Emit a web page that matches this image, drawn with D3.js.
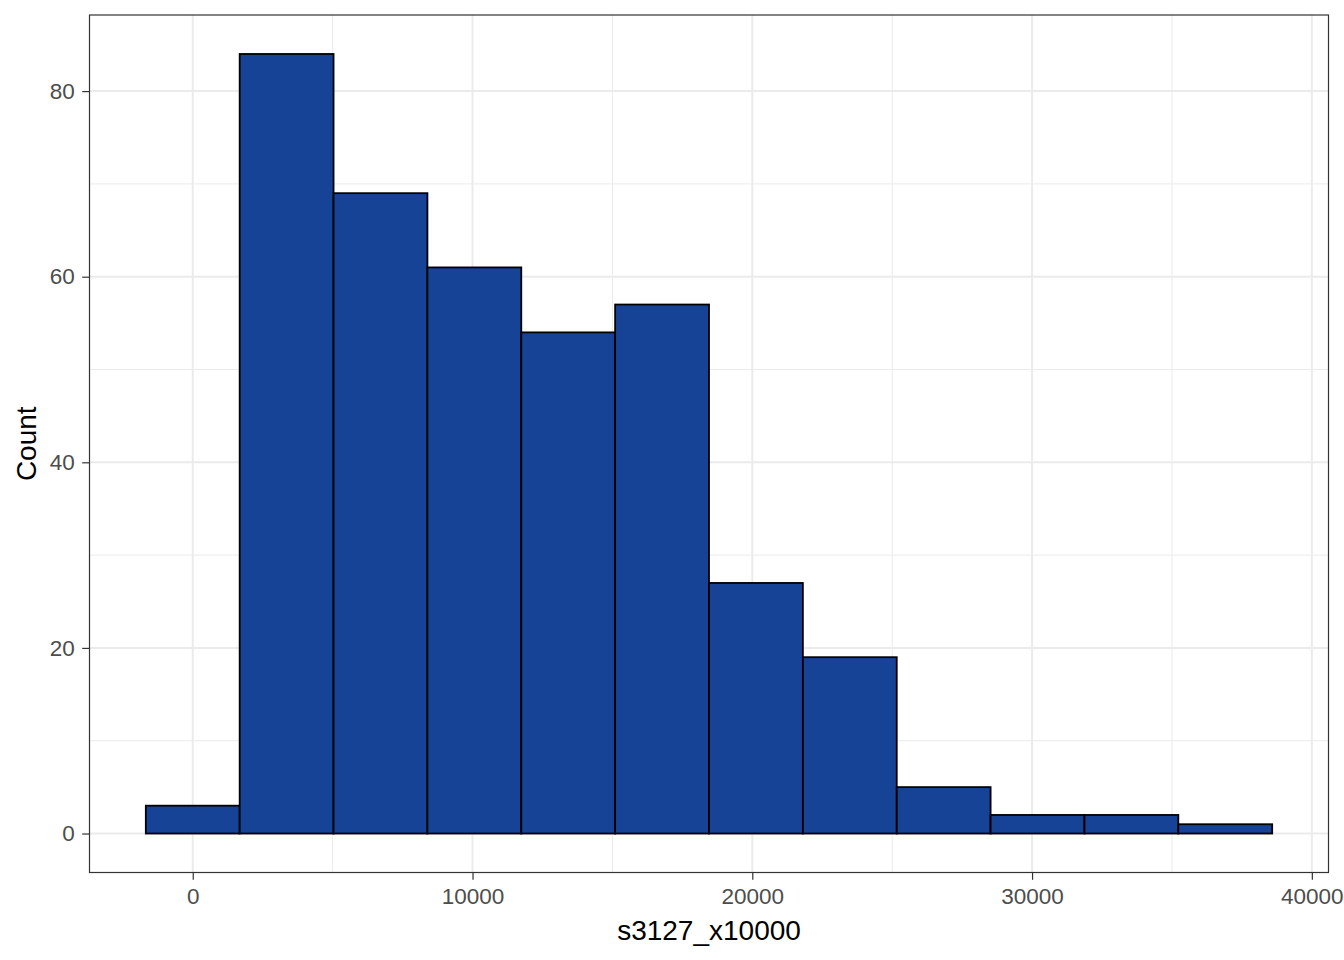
<!DOCTYPE html>
<html><head><meta charset="utf-8">
<script src="https://cdn.jsdelivr.net/npm/d3@7"></script>
<style>body{margin:0;background:#fff}svg{display:block}</style>
</head><body>
<script>
// Histogram bins (centers) and counts
const binCenters = [0, 3355, 6710, 10065, 13420, 16775, 20130, 23485, 26840, 30195, 33550, 36905];
const binWidth = 3355;
const counts = [3, 84, 69, 61, 54, 57, 27, 19, 5, 2, 2, 1];
const xTicks = [0, 10000, 20000, 30000, 40000];
const xMinor = [-5000, 5000, 15000, 25000, 35000];
const yTicks = [0, 20, 40, 60, 80];
const yMinor = [10, 30, 50, 70];
const xTitle = "s3127_x10000";
const yTitle = "Count";

const W = 1344, H = 960;
const panel = {left: 89.5, right: 1328.5, top: 15, bottom: 872.5};

const svg = d3.select("body").append("svg").attr("width", W).attr("height", H);

const xmin = binCenters[0] - binWidth/2, xmax = binCenters[binCenters.length-1] + binWidth/2;
const xpad = (xmax - xmin) * 0.05;
const x = d3.scaleLinear().domain([xmin - xpad, xmax + xpad]).range([panel.left, panel.right]);
const ymax = d3.max(counts);
const y = d3.scaleLinear().domain([-ymax*0.05, ymax*1.05]).range([panel.bottom, panel.top]);

const g = svg.append("g");
g.append("rect").attr("x", panel.left).attr("y", panel.top)
  .attr("width", panel.right - panel.left).attr("height", panel.bottom - panel.top).attr("fill", "#fff");

// minor grid
g.selectAll(".vminor").data(xMinor.filter(v => x(v) > panel.left && x(v) < panel.right)).enter().append("line")
  .attr("x1", d => x(d)).attr("x2", d => x(d)).attr("y1", panel.top).attr("y2", panel.bottom)
  .attr("stroke", "#EBEBEB").attr("stroke-width", 1);
g.selectAll(".hminor").data(yMinor).enter().append("line")
  .attr("y1", d => y(d)).attr("y2", d => y(d)).attr("x1", panel.left).attr("x2", panel.right)
  .attr("stroke", "#EBEBEB").attr("stroke-width", 1);
// major grid
g.selectAll(".vmajor").data(xTicks).enter().append("line")
  .attr("x1", d => x(d)).attr("x2", d => x(d)).attr("y1", panel.top).attr("y2", panel.bottom)
  .attr("stroke", "#EBEBEB").attr("stroke-width", 2);
g.selectAll(".hmajor").data(yTicks).enter().append("line")
  .attr("y1", d => y(d)).attr("y2", d => y(d)).attr("x1", panel.left).attr("x2", panel.right)
  .attr("stroke", "#EBEBEB").attr("stroke-width", 2);

// bars
g.selectAll(".bar").data(counts).enter().append("rect")
  .attr("x", (d, i) => x(binCenters[i] - binWidth/2))
  .attr("width", (d, i) => x(binCenters[i] + binWidth/2) - x(binCenters[i] - binWidth/2))
  .attr("y", d => y(d)).attr("height", d => y(0) - y(d))
  .attr("fill", "#174397").attr("stroke", "#000").attr("stroke-width", 1.8);

// panel border
g.append("rect").attr("x", panel.left).attr("y", panel.top)
  .attr("width", panel.right - panel.left).attr("height", panel.bottom - panel.top)
  .attr("fill", "none").attr("stroke", "#333333").attr("stroke-width", 1.2);

// axes
const xAxis = d3.axisBottom(x).tickValues(xTicks).tickSize(7.3).tickPadding(8).tickFormat(d3.format("d"));
const yAxis = d3.axisLeft(y).tickValues(yTicks).tickSize(7.3).tickPadding(7.5).tickFormat(d3.format("d"));
const gx = svg.append("g").attr("transform", `translate(0,${panel.bottom})`).call(xAxis);
const gy = svg.append("g").attr("transform", `translate(${panel.left},0)`).call(yAxis);
[gx, gy].forEach(a => {
  a.select(".domain").remove();
  a.selectAll(".tick line").attr("stroke", "#333333").attr("stroke-width", 1.2);
  a.selectAll(".tick text").attr("fill", "#4D4D4D").style("font-family", "Liberation Sans, Arial, sans-serif").style("font-size", "22.5px");
});

svg.append("text").attr("x", (panel.left + panel.right)/2).attr("y", 940)
  .attr("text-anchor", "middle").style("font-family", "Liberation Sans, Arial, sans-serif").style("font-size", "28px")
  .attr("fill", "#000").text(xTitle);
svg.append("text").attr("transform", `translate(36,${(panel.top + panel.bottom)/2}) rotate(-90)`)
  .attr("text-anchor", "middle").style("font-family", "Liberation Sans, Arial, sans-serif").style("font-size", "28px")
  .attr("fill", "#000").text(yTitle);
</script>
</body></html>
